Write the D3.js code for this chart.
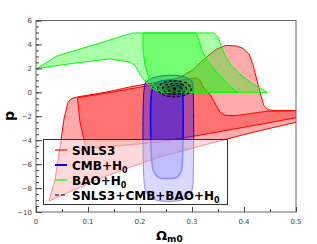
<!DOCTYPE html>
<html lang="en">
<head>
<meta charset="utf-8">
<title>Omega_m0 vs p contours</title>
<script src="https://d3js.org/d3.v7.min.js"></script>
<style>
body{ margin:0; background:#fff; }
.tick-label{ font: 7px "DejaVu Sans", sans-serif; fill:#444; }
.legend text{ font: bold 12px "DejaVu Sans", sans-serif; fill:#000; }
</style>
</head>
<body>
<div id="chart"></div>
<script>
// contour vertices, [Omega_m0, p]
var snlsOuter = [[0.025,-9.08],[0.0365,-7.33],[0.048,-4.0],[0.054,-2.17],[0.0615,-0.83],[0.069,-0.5],
  [0.081,-0.375],[0.133,0.0],[0.1865,0.5],[0.238,0.875],[0.273,1.17],[0.3,1.83],[0.325,2.83],
  [0.346,3.58],[0.365,3.92],[0.385,3.875],[0.398,3.67],[0.41,3.17],[0.417,2.33],[0.425,1.0],
  [0.433,-0.33],[0.438,-1.08],[0.446,-1.46],[0.4615,-1.54],[0.52,-1.5],[0.52,-2.45],
  [0.5,-2.5],[0.4115,-3.4],[0.315,-4.5],[0.238,-5.4],[0.1813,-6.25],[0.123,-7.2],[0.025,-9.08]];
var snlsInner = [[0.0798,-0.46],[0.1327,-0.08],[0.1865,0.33],[0.2327,0.67],[0.277,1.0],[0.3077,1.21],
  [0.315,1.0],[0.323,0.33],[0.3346,-0.17],[0.344,-0.92],[0.354,-1.67],[0.3635,-1.92],[0.3827,-1.96],
  [0.444,-1.58],[0.52,-1.52],[0.52,-2.1],[0.5,-2.125],[0.4115,-2.83],[0.315,-3.58],[0.2327,-4.17],
  [0.1615,-4.46],[0.096,-4.67],[0.0846,-2.5],[0.0798,-0.46]];
var cmbOuter = [[0.2077,0.17],[0.2115,0.83],[0.223,1.17],[0.242,1.375],[0.267,1.42],[0.288,1.25],
  [0.3,0.92],[0.302,0.33],[0.302,-7.33],[0.3,-8.17],[0.292,-8.75],[0.277,-9.04],[0.2346,-9.04],
  [0.219,-8.75],[0.2106,-8.17],[0.2077,-7.33]];
var cmbInner = [[0.223,0.17],[0.2288,0.67],[0.242,0.96],[0.2615,1.0],[0.277,0.83],[0.281,0.33],
  [0.281,-6.08],[0.279,-6.67],[0.271,-7.08],[0.254,-7.21],[0.2346,-7.08],[0.226,-6.58],[0.223,-5.92]];
var baoOuter = [[0.0019,2.0],[0.0404,3.04],[0.1135,4.0],[0.1865,4.96],[0.342,4.96],[0.35,4.58],
  [0.356,3.92],[0.3635,3.08],[0.375,2.25],[0.392,1.5],[0.415,0.75],[0.4346,0.25],[0.444,0.0],
  [0.238,0.0],[0.223,0.33],[0.2115,0.83],[0.2,1.5],[0.19,2.25],[0.181,2.5],[0.142,2.79],[0.0846,2.5]];
var baoInner = [[0.2058,4.96],[0.3077,4.96],[0.3135,4.33],[0.319,3.5],[0.329,2.67],[0.344,1.83],
  [0.3615,1.0],[0.377,0.33],[0.388,0.0],[0.242,0.0],[0.229,0.42],[0.217,1.17],[0.2096,2.25],[0.2058,3.5]];
var allOuter = [[0.299,0.29],[0.2894,0.77],[0.2663,0.96],[0.2433,0.77],[0.2337,0.29],[0.2433,-0.18],[0.2663,-0.375],[0.2894,-0.18]];
var allMiddle = [[0.2894,0.29],[0.2827,0.62],[0.2663,0.75],[0.25,0.62],[0.2433,0.29],[0.25,-0.03],[0.2663,-0.17],[0.2827,-0.03]];
var allInner = [[0.2798,0.29],[0.276,0.5],[0.2663,0.58],[0.2567,0.5],[0.2529,0.29],[0.2567,0.08],[0.2663,0.0],[0.276,0.08]];
var bestFit = [0.2663, 0.29];

var xTicks = [0, 0.1, 0.2, 0.3, 0.4, 0.5];
var yTicks = [-10, -8, -6, -4, -2, 0, 2, 4, 6];
var legendNames = ["SNLS3", "CMB+H", "BAO+H", "SNLS3+CMB+BAO+H"];
var legendSubs = ["", "0", "0", "0"];
var legendColors = ["#ff0000", "#0000ff", "#00ff00", "#000000"];

var W = 317, H = 244;
var svg = d3.select("#chart").append("svg").attr("width", W).attr("height", H);

var x = d3.scaleLinear().domain([0, 0.5]).range([36, 296]);
var y = d3.scaleLinear().domain([-10, 6]).range([212, 20.5]);

svg.append("clipPath").attr("id", "clip").append("rect")
  .attr("x", 36).attr("y", 20.5).attr("width", 260).attr("height", 191.5);

var plot = svg.append("g").attr("clip-path", "url(#clip)");
var lin = d3.line().x(function(d){ return x(d[0]); }).y(function(d){ return y(d[1]); }).curve(d3.curveLinearClosed);
var smooth = d3.line().x(function(d){ return x(d[0]); }).y(function(d){ return y(d[1]); }).curve(d3.curveCatmullRomClosed);

function contour(pts, gen, col, sw, fo){
  plot.append("path").attr("d", gen(pts))
    .attr("fill", col).attr("fill-opacity", fo)
    .attr("stroke", col).attr("stroke-width", sw).attr("stroke-linejoin", "round");
}
contour(snlsOuter, lin, "#ff0000", 1, 0.33);
contour(snlsInner, lin, "#ff0000", 1, 0.33);
contour(cmbOuter, smooth, "#0000ff", 1, 0.33);
contour(cmbInner, smooth, "#0000ff", 1.5, 0.33);
contour(baoOuter, lin, "#00ff00", 1, 0.33);
contour(baoInner, lin, "#00ff00", 1, 0.33);
[allOuter, allMiddle, allInner].forEach(function(pts){
  plot.append("path").attr("d", smooth(pts))
    .attr("fill", "#000").attr("fill-opacity", 0.12)
    .attr("stroke", "#000").attr("stroke-width", 1.2).attr("stroke-dasharray", "3,2");
});
plot.append("circle").attr("cx", x(bestFit[0])).attr("cy", y(bestFit[1])).attr("r", 1.5).attr("fill", "#000");

// frame
svg.append("rect").attr("x", 36).attr("y", 20.5).attr("width", 260).attr("height", 191.5)
  .attr("fill", "none").attr("stroke", "#666").attr("stroke-width", 1);

// x axis (ticks inside)
var xa = svg.append("g").attr("transform", "translate(0,212)")
  .call(d3.axisBottom(x).tickValues(d3.range(0, 0.501, 0.05)).tickSize(-3).tickFormat(""));
xa.append("g").call(d3.axisBottom(x).tickValues(xTicks).tickSize(-5).tickFormat(""));
xa.selectAll("path.domain").remove();
xa.selectAll("line").attr("stroke", "#444");
svg.selectAll(".xl").data(xTicks).enter().append("text").attr("class", "tick-label")
  .attr("x", function(d){ return x(d); }).attr("y", 224).attr("text-anchor", "middle")
  .text(function(d){ return d === 0 ? "0" : d3.format(".1f")(d); });

// y axis
var ya = svg.append("g").attr("transform", "translate(36,0)")
  .call(d3.axisLeft(y).tickValues(d3.range(-10, 6.01, 0.5)).tickSize(-3).tickFormat(""));
ya.append("g").call(d3.axisLeft(y).tickValues(yTicks).tickSize(-6).tickFormat(""));
ya.selectAll("path.domain").remove();
ya.selectAll("line").attr("stroke", "#444");
svg.selectAll(".yl").data(yTicks).enter().append("text").attr("class", "tick-label")
  .attr("x", 32).attr("y", function(d){ return y(d) + 2.5; }).attr("text-anchor", "end")
  .text(function(d){ return d < 0 ? "\u2212" + (-d) : d; });

// axis titles
svg.append("text").attr("transform", "translate(14,116) rotate(-90)")
  .attr("text-anchor", "middle").style("font", "bold 14px 'DejaVu Sans', sans-serif").text("p");
var xt = svg.append("text").attr("x", 156).attr("y", 240).style("font", "bold 13px 'DejaVu Sans', sans-serif");
xt.append("tspan").text("\u03A9");
xt.append("tspan").attr("dy", 2).style("font-size", "9px").text("m0");

// legend
var lg = svg.append("g").attr("class", "legend");
lg.append("rect").attr("x", 43.5).attr("y", 139.5).attr("width", 184).attr("height", 65)
  .attr("fill", "#fff").attr("fill-opacity", 0.55).attr("stroke", "#333").attr("stroke-width", 1);
legendNames.forEach(function(n, i){
  var yy = 150 + i * 15;
  lg.append("line").attr("x1", 55).attr("x2", 67).attr("y1", yy).attr("y2", yy)
    .attr("stroke", legendColors[i]).attr("stroke-width", i === 1 ? 2 : 1.2)
    .attr("stroke-dasharray", i === 3 ? "4,2" : null);
  var t = lg.append("text").attr("x", 72).attr("y", yy + 4.5).text(n);
  if (legendSubs[i]) t.append("tspan").attr("dy", 3).style("font-size", "8px").text(legendSubs[i]);
});
</script>
</body>
</html>
